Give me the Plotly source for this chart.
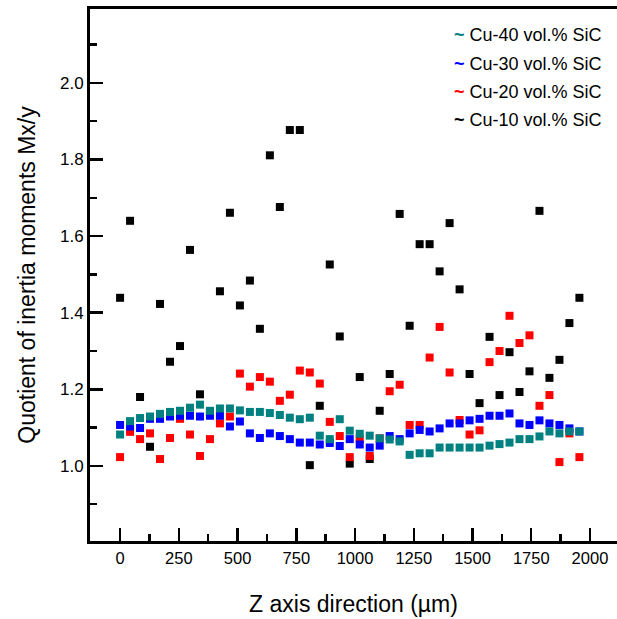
import plotly.graph_objects as go

# Z axis positions (µm)
z_positions = [round(i * 42.5, 1) for i in range(47)]

cu40 = [1.082, 1.117, 1.125, 1.129, 1.136, 1.141, 1.144, 1.152, 1.160, 1.144,
        1.150, 1.150, 1.145, 1.141, 1.141, 1.138, 1.133, 1.126, 1.122, 1.126,
        1.079, 1.070, 1.122, 1.092, 1.084, 1.079, 1.072, 1.069, 1.064, 1.029,
        1.033, 1.033, 1.048, 1.048, 1.048, 1.048, 1.048, 1.053, 1.057, 1.061,
        1.070, 1.070, 1.077, 1.090, 1.085, 1.090, 1.090]

cu30 = [1.107, 1.103, 1.099, 1.123, 1.123, 1.129, 1.131, 1.131, 1.129, 1.131,
        1.131, 1.103, 1.116, 1.085, 1.073, 1.085, 1.078, 1.070, 1.061, 1.061,
        1.056, 1.060, 1.052, 1.070, 1.056, 1.048, 1.053, 1.078, 1.070, 1.085,
        1.094, 1.090, 1.098, 1.111, 1.111, 1.119, 1.123, 1.131, 1.131, 1.137,
        1.111, 1.107, 1.119, 1.111, 1.107, 1.098, 1.090]

cu20 = [1.023, 1.089, 1.070, 1.085, 1.018, 1.073, 1.123, 1.082, 1.026, 1.070,
        1.111, 1.129, 1.241, 1.207, 1.232, 1.220, 1.170, 1.186, 1.249, 1.244,
        1.215, 1.115, 1.078, 1.023, 1.070, 1.026, 1.072, 1.195, 1.212, 1.107,
        1.107, 1.283, 1.363, 1.244, 1.120, 1.082, 1.093, 1.271, 1.300, 1.392,
        1.321, 1.341, 1.157, 1.185, 1.010, 1.085, 1.023]

cu10 = [1.439, 1.640, 1.180, 1.050, 1.423, 1.272, 1.313, 1.564, 1.187, 1.140,
        1.456, 1.661, 1.419, 1.484, 1.358, 1.811, 1.676, 1.877, 1.877, 1.002,
        1.157, 1.526, 1.338, 1.006, 1.232, 1.018, 1.144, 1.240, 1.658, 1.366,
        1.579, 1.579, 1.508, 1.634, 1.461, 1.240, 1.164, 1.337, 1.185, 1.297,
        1.193, 1.247, 1.666, 1.230, 1.277, 1.373, 1.439]

series_names = ["Cu-40 vol.% SiC", "Cu-30 vol.% SiC", "Cu-20 vol.% SiC", "Cu-10 vol.% SiC"]
series_values = [cu40, cu30, cu20, cu10]
series_colors = ["#008080", "#0000FF", "#FF0000", "#000000"]

x_tick_vals = [0, 250, 500, 750, 1000, 1250, 1500, 1750, 2000]
y_tick_vals = [1.0, 1.2, 1.4, 1.6, 1.8, 2.0]

FONT = "Liberation Sans, Arial, sans-serif"

fig = go.Figure()
# draw black first so coloured series sit on top
for name, vals, col in reversed(list(zip(series_names, series_values, series_colors))):
    fig.add_trace(go.Scatter(
        x=z_positions, y=vals, mode="markers", name=name,
        marker=dict(symbol="square", size=8, color=col, line=dict(width=0)),
        showlegend=False,
    ))

# legend as annotations (tilde glyph + label)
L, R, T, B = 90, 617, 9, 541
leg_rows = [35, 63.7, 91.7, 120]
for name, col, ry in zip(series_names, series_colors, leg_rows):
    fig.add_annotation(
        x=(452 - L) / (R - L), y=(B - ry) / (B - T), xref="paper", yref="paper",
        xanchor="left", yanchor="middle", showarrow=False,
        text=f"<span style='color:{col}'><b>~</b></span> {name}",
        font=dict(family=FONT, size=18, color="#000000"),
    )

fig.update_layout(
    width=617, height=619,
    margin=dict(l=L, r=617 - R, t=T, b=619 - B),
    paper_bgcolor="white", plot_bgcolor="white",
    font=dict(family=FONT, color="#000000"),
    xaxis=dict(
        range=[-128, 2115], tickvals=x_tick_vals,
        ticks="inside", ticklen=13, tickwidth=2.5, tickcolor="#000000",
        minor=dict(dtick=125, tick0=0, ticks="inside", ticklen=7, tickwidth=2.5, tickcolor="#000000"),
        showline=True, linewidth=3, linecolor="#000000", mirror=True,
        showgrid=False, zeroline=False,
        tickfont=dict(size=16.5, family=FONT),
        title=dict(text="Z axis direction (µm)", font=dict(size=23, family=FONT), standoff=31),
    ),
    yaxis=dict(
        range=[0.804, 2.193], tickvals=y_tick_vals, tickformat=".1f",
        ticks="inside", ticklen=13, tickwidth=2.5, tickcolor="#000000",
        minor=dict(dtick=0.1, tick0=0, ticks="inside", ticklen=7, tickwidth=2.5, tickcolor="#000000"),
        showline=True, linewidth=3, linecolor="#000000", mirror=False,
        showgrid=False, zeroline=False,
        tickfont=dict(size=17, family=FONT),
        title=dict(text="Quotient of inertia moments Mx/y", font=dict(size=23, family=FONT), standoff=18),
    ),
)

fig.write_html(
    "out.html",
    config={"displayModeBar": False, "staticPlot": True},
    post_script="document.body.style.margin='0';document.body.style.overflow='hidden';",
)
